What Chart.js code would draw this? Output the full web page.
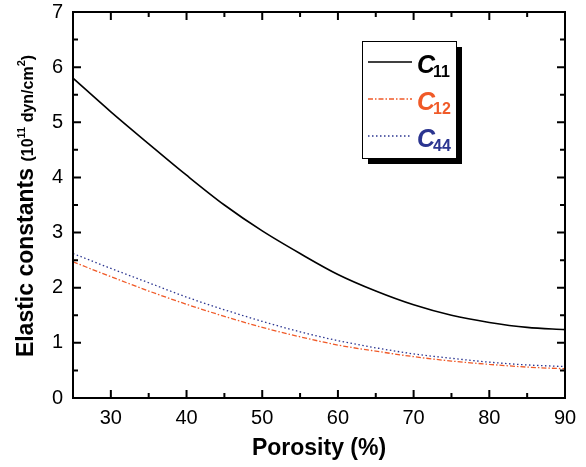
<!DOCTYPE html>
<html>
<head>
<meta charset="utf-8">
<script src="https://cdn.jsdelivr.net/npm/chart.js@4/dist/chart.umd.min.js"></script>
<style>
  html, body { margin: 0; padding: 0; background: #fff; }
  #wrap { width: 586px; height: 467px; }
</style>
</head>
<body>
<div id="wrap"><canvas id="chart" width="586" height="467"></canvas></div>
<script>
// porosity (%) and elastic constants (10^11 dyn/cm^2)
const porosity = [25, 30, 35, 40, 45, 50, 55, 60, 65, 70, 75, 80, 85, 90];
const c11 = [5.80, 5.19, 4.61, 4.04, 3.50, 3.03, 2.62, 2.24, 1.94, 1.69, 1.50, 1.37, 1.28, 1.24];
const c12 = [2.47, 2.20, 1.94, 1.70, 1.48, 1.28, 1.11, 0.96, 0.85, 0.75, 0.67, 0.61, 0.56, 0.53];
const c44 = [2.62, 2.35, 2.09, 1.83, 1.60, 1.39, 1.20, 1.04, 0.91, 0.80, 0.72, 0.65, 0.60, 0.57];

const xMajorTicks = [30, 40, 50, 60, 70, 80, 90];
const xMinorTicks = [35, 45, 55, 65, 75, 85];
const yMajorTicks = [0, 1, 2, 3, 4, 5, 6, 7];
const yMinorTicks = [0.5, 1.5, 2.5, 3.5, 4.5, 5.5, 6.5];

const seriesNames = ["11", "12", "44"];
const seriesColors = ["#000000", "#f05a28", "#2b3590"];
const seriesDashes = [[], [5, 2, 1.5, 2], [1.5, 2.5]];

const FONT = "'Liberation Sans', Arial, sans-serif";

function toPoints(values) {
  return porosity.map((p, i) => ({ x: p, y: values[i] }));
}

function makeDataset(values, i) {
  return {
    label: "C" + seriesNames[i],
    data: toPoints(values),
    borderColor: seriesColors[i],
    borderWidth: i === 0 ? 1.6 : 1.3,
    borderDash: seriesDashes[i],
    pointRadius: 0,
    fill: false,
    cubicInterpolationMode: "monotone",
  };
}

const axesPlugin = {
  id: "axesPlugin",
  afterDraw(chart) {
    const ctx = chart.ctx;
    const area = chart.chartArea;
    const xs = chart.scales.x;
    const ys = chart.scales.y;
    ctx.save();

    // frame
    ctx.strokeStyle = "#000";
    ctx.lineWidth = 2;
    ctx.strokeRect(area.left, area.top, area.right - area.left, area.bottom - area.top);

    // inward ticks on all four sides
    function tickX(v, len) {
      const px = xs.getPixelForValue(v);
      ctx.beginPath();
      ctx.moveTo(px, area.bottom);
      ctx.lineTo(px, area.bottom - len);
      ctx.moveTo(px, area.top);
      ctx.lineTo(px, area.top + len);
      ctx.stroke();
    }
    function tickY(v, len) {
      const py = ys.getPixelForValue(v);
      ctx.beginPath();
      ctx.moveTo(area.left, py);
      ctx.lineTo(area.left + len, py);
      ctx.moveTo(area.right, py);
      ctx.lineTo(area.right - len, py);
      ctx.stroke();
    }
    xMajorTicks.forEach((v) => tickX(v, 8));
    xMinorTicks.forEach((v) => tickX(v, 5));
    yMajorTicks.forEach((v) => tickY(v, 8));
    yMinorTicks.forEach((v) => tickY(v, 5));

    // tick labels
    ctx.fillStyle = "#000";
    ctx.font = "20px " + FONT;
    ctx.textAlign = "center";
    ctx.textBaseline = "alphabetic";
    xMajorTicks.forEach((v) => ctx.fillText(String(v), xs.getPixelForValue(v), 424));
    ctx.textAlign = "right";
    ctx.textBaseline = "middle";
    yMajorTicks.forEach((v) => ctx.fillText(String(v), 63, ys.getPixelForValue(v)));

    // x title
    ctx.font = "bold 23px " + FONT;
    ctx.textAlign = "center";
    ctx.textBaseline = "alphabetic";
    ctx.fillText("Porosity (%)", (area.left + area.right) / 2, 455);

    // y title, rotated, with superscripts
    ctx.save();
    ctx.translate(33, 206);
    ctx.rotate(-Math.PI / 2);
    const parts = [
      { t: "Elastic constants ", f: "bold 23px ", dy: 0 },
      { t: "(10", f: "bold 16px ", dy: 0 },
      { t: "11", f: "bold 11px ", dy: -8 },
      { t: " dyn/cm", f: "bold 16px ", dy: 0 },
      { t: "2", f: "bold 11px ", dy: -8 },
      { t: ")", f: "bold 16px ", dy: 0 },
    ];
    let total = 0;
    parts.forEach((p) => { ctx.font = p.f + FONT; p.w = ctx.measureText(p.t).width; total += p.w; });
    let cx = -total / 2;
    ctx.textAlign = "left";
    ctx.textBaseline = "alphabetic";
    parts.forEach((p) => { ctx.font = p.f + FONT; ctx.fillText(p.t, cx, p.dy); cx += p.w; });
    ctx.restore();

    // legend box with shadow
    const bx = 362, by = 41, bw = 94, bh = 117;
    ctx.fillStyle = "#000";
    ctx.fillRect(bx + bw, by + 6, 6, bh);
    ctx.fillRect(bx + 6, by + bh, bw, 6);
    ctx.fillStyle = "#fff";
    ctx.fillRect(bx, by, bw, bh);
    ctx.lineWidth = 1;
    ctx.strokeStyle = "#000";
    ctx.strokeRect(bx + 0.5, by + 0.5, bw, bh);

    const rowsY = [62, 99, 136];
    chart.data.datasets.forEach((ds, i) => {
      const ly = rowsY[i];
      ctx.beginPath();
      ctx.strokeStyle = ds.borderColor;
      ctx.lineWidth = ds.borderWidth;
      ctx.setLineDash(ds.borderDash);
      ctx.moveTo(368, ly);
      ctx.lineTo(412, ly);
      ctx.stroke();
      ctx.setLineDash([]);
      ctx.fillStyle = ds.borderColor;
      ctx.textAlign = "left";
      ctx.textBaseline = "alphabetic";
      ctx.font = "italic bold 25px " + FONT;
      ctx.fillText("C", 417, ly + 11);
      const w = ctx.measureText("C").width;
      ctx.font = "bold 16px " + FONT;
      ctx.fillText(seriesNames[i], 415 + w, ly + 15);
    });

    ctx.restore();
  },
};

new Chart(document.getElementById("chart"), {
  type: "line",
  data: {
    datasets: [makeDataset(c11, 0), makeDataset(c12, 1), makeDataset(c44, 2)],
  },
  options: {
    responsive: false,
    animation: false,
    devicePixelRatio: 1,
    layout: { padding: { left: 73, right: 21, top: 12, bottom: 69 } },
    plugins: { legend: { display: false }, tooltip: { enabled: false } },
    scales: {
      x: { type: "linear", min: 25, max: 90, display: false },
      y: { type: "linear", min: 0, max: 7, display: false },
    },
  },
  plugins: [axesPlugin],
});
</script>
</body>
</html>
